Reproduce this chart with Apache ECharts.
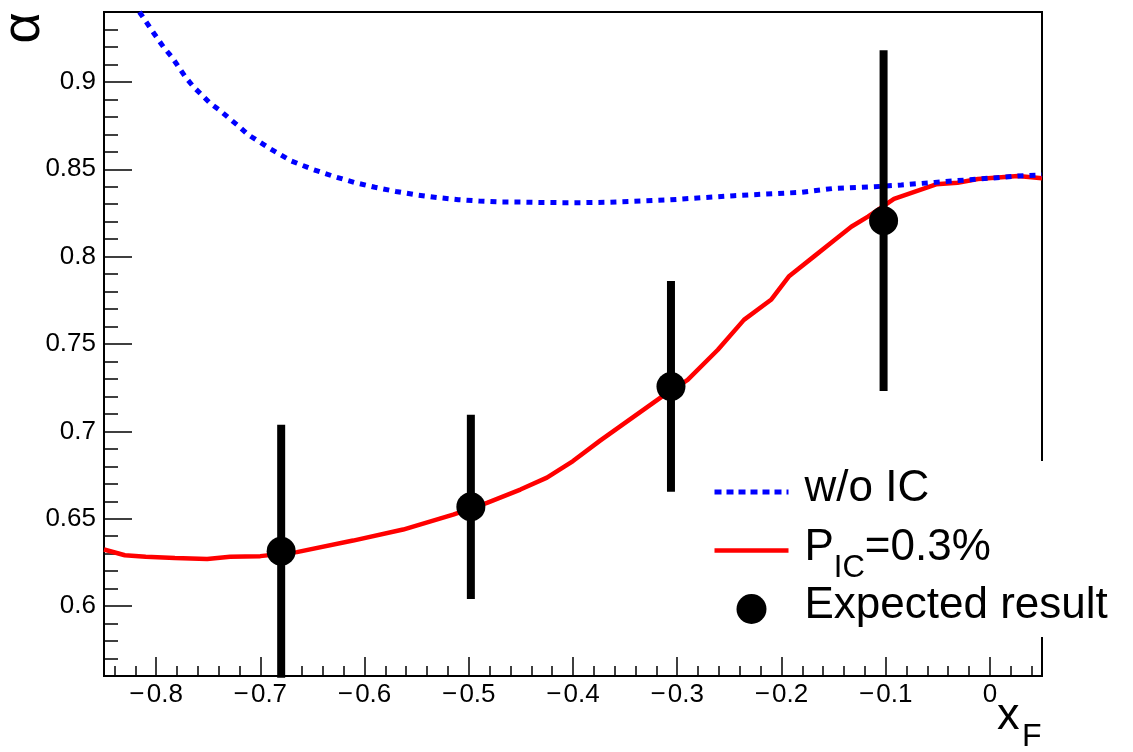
<!DOCTYPE html>
<html>
<head>
<meta charset="utf-8">
<script src="https://cdn.jsdelivr.net/npm/echarts@6/dist/echarts.min.js"></script>
<style>html,body{margin:0;padding:0;background:#fff}#c{width:1133px;height:752px}</style>
</head>
<body>
<div id="c"></div>
<script>
// ---- tick values and labels ----
const xMajorTicks = [-0.8, -0.7, -0.6, -0.5, -0.4, -0.3, -0.2, -0.1, 0];
const xTickLabels = ['\u2212\u200A0.8', '\u2212\u200A0.7', '\u2212\u200A0.6', '\u2212\u200A0.5', '\u2212\u200A0.4', '\u2212\u200A0.3', '\u2212\u200A0.2', '\u2212\u200A0.1', '0'];
const yMajorTicks = [0.6, 0.65, 0.7, 0.75, 0.8, 0.85, 0.9];
const yTickLabels = ['0.6', '0.65', '0.7', '0.75', '0.8', '0.85', '0.9'];

// ---- series: w/o IC (blue dotted) ----
const woIcX = [-0.816, -0.802, -0.793, -0.785, -0.772, -0.764, -0.756, -0.748, -0.738, -0.729, -0.720, -0.712, -0.701, -0.691, -0.680, -0.670,
  -0.65, -0.63, -0.61, -0.59, -0.57, -0.55, -0.53, -0.51, -0.49, -0.47, -0.45, -0.43, -0.41, -0.39, -0.367,
  -0.31, -0.2455, -0.181, -0.149, -0.111, -0.085, -0.053, -0.0115, 0.027, 0.05];
const woIcY = [0.9400, 0.9277, 0.9200, 0.9143, 0.9029, 0.8971, 0.8924, 0.8877, 0.8833, 0.8787, 0.8743, 0.8699, 0.8657, 0.8619, 0.8581, 0.8547,
  0.8500, 0.8460, 0.8425, 0.8397, 0.8373, 0.8353, 0.8338, 0.8326, 0.8318, 0.8313, 0.8312, 0.8310, 0.8309, 0.8309, 0.8311,
  0.8324, 0.8349, 0.8368, 0.8391, 0.8400, 0.8410, 0.8425, 0.8444, 0.8461, 0.8467];

// ---- series: P_IC = 0.3% (red) ----
const picX = [-0.85, -0.83, -0.81, -0.782, -0.751, -0.729, -0.700, -0.665, -0.611, -0.563, -0.515, -0.4825, -0.4505, -0.425, -0.400, -0.374,
  -0.316, -0.290, -0.261, -0.236, -0.210, -0.193, -0.169, -0.149, -0.133, -0.117, -0.092, -0.0516, -0.031, -0.0115, 0.027, 0.05];
const picY = [0.6324, 0.6291, 0.6282, 0.6275, 0.6269, 0.6282, 0.6286, 0.6309, 0.6375, 0.6438, 0.6524, 0.6591, 0.6667, 0.6735, 0.6830, 0.6947,
  0.7193, 0.7295, 0.7467, 0.7638, 0.7753, 0.7886, 0.8000, 0.8095, 0.8171, 0.8229, 0.8330, 0.8414, 0.8423, 0.8444, 0.8461, 0.8448];

// ---- series: Expected result (points with errors) ----
const expX = [-0.680, -0.498, -0.306, -0.102];
const expY = [0.6314, 0.6568, 0.7257, 0.8206];
const expErr = [0.0724, 0.0527, 0.0603, 0.0975];

// minor tick positions
const xMinorTicks = [];
for (let i = -42; i <= 2; i++) xMinorTicks.push(+(i * 0.02).toFixed(2));
const yMinorTicks = [];
for (let i = 57; i <= 93; i++) yMinorTicks.push(+(i * 0.01).toFixed(2));

const FONT = '"Liberation Sans", Arial, Helvetica, sans-serif';
function labelFor(values, labels) {
  return function (v) {
    let k = 0, d = Infinity;
    values.forEach(function (t, i) { const dd = Math.abs(t - v); if (dd < d) { d = dd; k = i; } });
    return labels[k];
  };
}
const zip = (xs, ys) => xs.map((x, i) => [x, ys[i]]);

const chart = echarts.init(document.getElementById('c'), null, { renderer: 'canvas' });
const tickStyle = { color: '#000', width: 1.5 };
const hiddenSymbol = { color: 'rgba(0,0,0,0)', opacity: 0, borderWidth: 0 };
const option = {
  animation: false,
  backgroundColor: '#fff',
  grid: { left: 104, right: 91, top: 12, bottom: 76, show: true, borderColor: '#000', borderWidth: 2, backgroundColor: 'transparent' },
  xAxis: [
    {
      type: 'value', min: -0.85, max: 0.05, position: 'bottom',
      axisLine: { show: true, onZero: false, lineStyle: { color: '#000', width: 2 } },
      axisTick: { show: true, inside: true, length: 19, customValues: xMajorTicks, lineStyle: tickStyle },
      axisLabel: { customValues: xMajorTicks, formatter: labelFor(xMajorTicks, xTickLabels), fontSize: 26, color: '#000', fontFamily: FONT, margin: 6 },
      splitLine: { show: false }
    },
    {
      type: 'value', min: -0.85, max: 0.05, position: 'bottom',
      axisLine: { show: false, onZero: false },
      axisTick: { show: true, inside: true, length: 10, customValues: xMinorTicks, lineStyle: tickStyle },
      axisLabel: { show: false },
      splitLine: { show: false }
    }
  ],
  yAxis: [
    {
      type: 'value', min: 0.56, max: 0.94, position: 'left',
      axisLine: { show: true, onZero: false, lineStyle: { color: '#000', width: 2 } },
      axisTick: { show: true, inside: true, length: 28, customValues: yMajorTicks, lineStyle: tickStyle },
      axisLabel: { customValues: yMajorTicks, formatter: labelFor(yMajorTicks, yTickLabels), fontSize: 26, color: '#000', fontFamily: FONT, margin: 8 },
      splitLine: { show: false }
    },
    {
      type: 'value', min: 0.56, max: 0.94, position: 'left',
      axisLine: { show: false, onZero: false },
      axisTick: { show: true, inside: true, length: 14, customValues: yMinorTicks, lineStyle: tickStyle },
      axisLabel: { show: false },
      splitLine: { show: false }
    }
  ],
  legend: {
    orient: 'vertical', left: 700, top: 461,
    padding: [6, 10, 3, 12],
    itemWidth: 74, itemHeight: 30, itemGap: 0,
    backgroundColor: '#fff', selectedMode: false,
    data: [
      { name: 'w/o IC', itemStyle: hiddenSymbol, lineStyle: { width: 5, color: '#0000ff', type: [7, 5] } },
      { name: 'P_IC=0.3%', itemStyle: hiddenSymbol, lineStyle: { width: 4.5, color: '#ff0000' } },
      { name: 'Expected result', icon: 'circle' }
    ],
    formatter: function (name) {
      if (name === 'P_IC=0.3%') return '{a|P}{s|IC}{b|=0.3%}';
      return '{a|' + name + '}';
    },
    textStyle: {
      color: '#000', fontFamily: FONT, fontSize: 44,
      rich: {
        a: { fontSize: 44, fontFamily: FONT, color: '#000', lineHeight: 30, verticalAlign: 'middle', padding: [0, 0, 6, 11] },
        b: { fontSize: 44, fontFamily: FONT, color: '#000', lineHeight: 30, verticalAlign: 'middle', padding: [0, 0, 6, 0] },
        s: { fontSize: 31, fontFamily: FONT, color: '#000', lineHeight: 30, verticalAlign: 'middle', padding: [36, 0, 0, 0] }
      }
    }
  },
  graphic: [
    { type: 'text', x: 24, y: 28, rotation: Math.PI / 2, z: 10,
      style: { text: '\u03B1', font: '54px ' + FONT, fill: '#000', textAlign: 'center', textVerticalAlign: 'middle' } },
    { type: 'text', x: 997, y: 717, z: 10,
      style: { text: 'x', font: '45px ' + FONT, fill: '#000', textAlign: 'left', textVerticalAlign: 'middle' } },
    { type: 'text', x: 1022, y: 737, z: 10,
      style: { text: 'F', font: '32px ' + FONT, fill: '#000', textAlign: 'left', textVerticalAlign: 'middle' } }
  ],
  series: [
    {
      name: 'P_IC=0.3%', type: 'line', data: zip(picX, picY), showSymbol: false, symbol: 'none', z: 2,
      lineStyle: { color: '#ff0000', width: 4.5 }, itemStyle: { color: '#ff0000' }, clip: true
    },
    {
      name: 'w/o IC', type: 'line', data: zip(woIcX, woIcY), showSymbol: false, symbol: 'none', z: 3,
      lineStyle: { color: '#0000ff', width: 5, type: [6, 6] }, itemStyle: { color: '#0000ff' }, clip: true
    },
    {
      name: 'errors', type: 'custom', z: 4,
      data: expX.map((x, i) => [x, expY[i], expErr[i]]),
      encode: { x: 0, y: 1 },
      renderItem: function (params, api) {
        const x = api.value(0), y = api.value(1), e = api.value(2);
        const p1 = api.coord([x, y + e]);
        const p2 = api.coord([x, y - e]);
        return { type: 'line', shape: { x1: p1[0], y1: p1[1], x2: p2[0], y2: p2[1] }, style: { stroke: '#000', lineWidth: 8 } };
      }
    },
    {
      name: 'Expected result', type: 'scatter', data: zip(expX, expY), symbol: 'circle', symbolSize: 29, z: 5,
      itemStyle: { color: '#000', opacity: 1 }
    }
  ]
};
chart.setOption(option);
</script>
</body>
</html>
